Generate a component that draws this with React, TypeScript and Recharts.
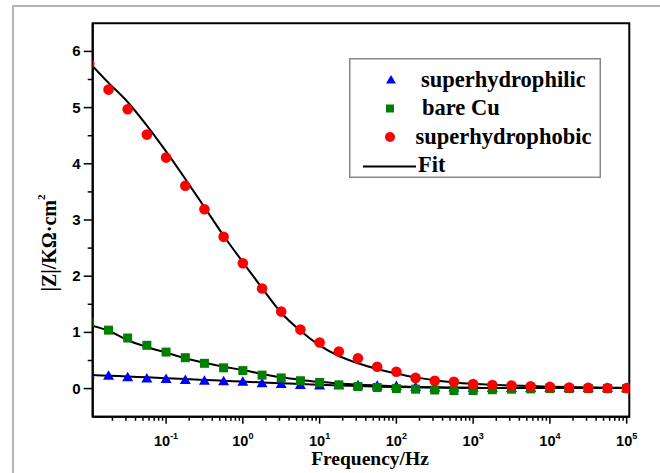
import React from 'react';
import { ComposedChart, Scatter, Line, XAxis, YAxis, Legend, ReferenceArea, Label } from 'recharts';

const freq = [0.01, 0.0178, 0.0316, 0.0562, 0.1, 0.178, 0.316, 0.562, 1, 1.78, 3.16, 5.62, 10, 17.8, 31.6, 56.2, 100, 178, 316, 562, 1000, 1780, 3160, 5620, 10000, 17800, 31600, 56200, 100000];

const philic = [0.25, 0.23, 0.2, 0.18, 0.17, 0.155, 0.14, 0.13, 0.12, 0.095, 0.08, 0.065, 0.055, 0.06, 0.06, 0.05, 0.045, 0.03, 0.02, 0.02, 0.015, 0.012, 0.01, 0.01, 0.01, 0.01, 0.01, 0.01, 0.01];
const bare = [1.18, 1.04, 0.9, 0.77, 0.65, 0.55, 0.45, 0.37, 0.32, 0.24, 0.19, 0.14, 0.11, 0.066, 0.036, 0.02, 0.0, -0.01, -0.025, -0.035, -0.035, -0.02, -0.01, -0.005, 0.0, 0.0, 0.0, 0.0, 0.0];
const phobic = [5.78, 5.32, 4.97, 4.52, 4.11, 3.61, 3.19, 2.7, 2.23, 1.78, 1.37, 1.05, 0.82, 0.66, 0.54, 0.39, 0.3, 0.19, 0.14, 0.12, 0.08, 0.065, 0.055, 0.04, 0.03, 0.02, 0.015, 0.012, 0.01];

const fitPhilic = [0.245, 0.23, 0.215, 0.2, 0.185, 0.17, 0.155, 0.14, 0.125, 0.11, 0.095, 0.08, 0.068, 0.055, 0.045, 0.035, 0.028, 0.022, 0.018, 0.015, 0.013, 0.012, 0.011, 0.01, 0.01, 0.01, 0.01, 0.01, 0.01];
const fitBare = [1.13, 1.03, 0.86, 0.74, 0.64, 0.54, 0.46, 0.39, 0.33, 0.26, 0.2, 0.155, 0.12, 0.09, 0.07, 0.055, 0.04, 0.03, 0.022, 0.017, 0.013, 0.011, 0.01, 0.01, 0.01, 0.01, 0.01, 0.01, 0.01];
const fitPhobic = [5.8, 5.44, 5.1, 4.68, 4.22, 3.73, 3.23, 2.72, 2.25, 1.79, 1.35, 1.03, 0.77, 0.58, 0.45, 0.35, 0.27, 0.2, 0.15, 0.11, 0.085, 0.07, 0.055, 0.045, 0.035, 0.028, 0.022, 0.017, 0.014];

const majorXTicks = [0.1, 1, 10, 100, 1000, 10000, 100000];
const minorXTicks = [
  0.02, 0.03, 0.04, 0.05, 0.06, 0.07, 0.08, 0.09,
  0.2, 0.3, 0.4, 0.5, 0.6, 0.7, 0.8, 0.9,
  2, 3, 4, 5, 6, 7, 8, 9,
  20, 30, 40, 50, 60, 70, 80, 90,
  200, 300, 400, 500, 600, 700, 800, 900,
  2000, 3000, 4000, 5000, 6000, 7000, 8000, 9000,
  20000, 30000, 40000, 50000, 60000, 70000, 80000, 90000,
];
const xTicks = [...majorXTicks, ...minorXTicks].sort((a, b) => a - b);
const majorYTicks = [0, 1, 2, 3, 4, 5, 6];
const minorYTicks = [0.5, 1.5, 2.5, 3.5, 4.5, 5.5];
const yTicks = [...majorYTicks, ...minorYTicks].sort((a, b) => a - b);

const xDomain: [number, number] = [0.01107, 108200];
const yDomain: [number, number] = [-0.5, 6.5];

const toRows = (vals: number[]) => freq.map((f, i) => ({ f, z: vals[i] }));
const philicData = toRows(philic);
const bareData = toRows(bare);
const phobicData = toRows(phobic);
const fitPhilicData = toRows(fitPhilic);
const fitBareData = toRows(fitBare);
const fitPhobicData = toRows(fitPhobic);

const SANS = '"Liberation Sans", Arial, sans-serif';
const SERIF = '"Liberation Serif", "Times New Roman", serif';

const XTick = (props: any) => {
  const { x, y, payload } = props;
  const v = payload.value as number;
  const lg = Math.log10(v);
  const exp = Math.round(lg);
  const major = Math.abs(lg - exp) < 1e-6;
  return (
    <g>
      <line x1={x} x2={x} y1={y} y2={y + (major ? 7 : 4)} stroke="#000" strokeWidth={1.5} />
      {major && (
        <text x={x} y={y + 29} textAnchor="middle" fontFamily={SANS} fontWeight="bold" fontSize={14.5} fill="#000">
          10<tspan dy={-7} fontSize={9}>{exp}</tspan>
        </text>
      )}
    </g>
  );
};

const YTick = (props: any) => {
  const { x, y, payload } = props;
  const v = payload.value as number;
  const major = Number.isInteger(v);
  return (
    <g>
      <line x1={x - (major ? 9 : 5)} x2={x} y1={y} y2={y} stroke="#000" strokeWidth={1.5} />
      {major && (
        <text x={x - 12} y={y + 5} textAnchor="end" fontFamily={SANS} fontWeight="bold" fontSize={15} fill="#000">
          {v}
        </text>
      )}
    </g>
  );
};

const XTitle = (props: any) => {
  const vb = props.viewBox || {};
  const cx = vb.x + vb.width / 2 + 9;
  const y = vb.y + 48;
  return (
    <text x={cx} y={y} textAnchor="middle" fontFamily={SERIF} fontWeight="bold" fontSize={19.5} fill="#000">
      Frequency/Hz
    </text>
  );
};

const YTitle = (props: any) => {
  const vb = props.viewBox || {};
  const cx = vb.x + 16.5;
  const cy = vb.y + vb.height / 2 + 23;
  return (
    <text
      x={cx}
      y={cy}
      transform={`rotate(-90 ${cx} ${cy})`}
      textAnchor="middle"
      dominantBaseline="central"
      fontFamily={SERIF}
      fontWeight="bold"
      fontSize={20}
      fill="#000"
    >
      |Z|/KΩ·cm<tspan dy={-8} fontSize={11}>2</tspan>
    </text>
  );
};

const TriShape = (p: any) => (
  <polygon points={`${p.cx},${p.cy - 5.5} ${p.cx + 5.5},${p.cy + 4} ${p.cx - 5.5},${p.cy + 4}`} fill="#0000ff" />
);
const SquareShape = (p: any) => <rect x={p.cx - 4.5} y={p.cy - 4.5} width={9} height={9} fill="#007f00" />;
const CircleShape = (p: any) => <circle cx={p.cx} cy={p.cy} r={5.3} fill="#ff0000" />;

const legendItems = [
  { name: 'superhydrophilic', kind: 'tri', tx: 72, ty: 28.5 },
  { name: 'bare Cu', kind: 'sq', tx: 73, ty: 57 },
  { name: 'superhydrophobic', kind: 'ci', tx: 66.5, ty: 85.5 },
  { name: 'Fit', kind: 'line', tx: 69, ty: 114 },
];

const LegendBox = () => (
  <svg width={252} height={120} style={{ display: 'block' }}>
    <rect x={0.75} y={0.75} width={250.5} height={118.5} fill="#fff" stroke="#888" strokeWidth={1.5} />
    {legendItems.map((it, i) => {
      const cy = it.ty - 6.5;
      let sym: React.ReactNode = null;
      if (it.kind === 'tri') sym = <polygon points={`42,${cy - 5} 47,${cy + 3.5} 37,${cy + 3.5}`} fill="#0000ff" />;
      if (it.kind === 'sq') sym = <rect x={37} y={cy - 4} width={8} height={8} fill="#007f00" />;
      if (it.kind === 'ci') sym = <circle cx={41} cy={cy} r={5} fill="#ff0000" />;
      if (it.kind === 'line') sym = <line x1={14} x2={67} y1={cy + 1} y2={cy + 1} stroke="#000" strokeWidth={2.2} />;
      return (
        <g key={i}>
          {sym}
          <text x={it.tx} y={it.ty} fontFamily={SERIF} fontWeight="bold" fontSize={22.5} fill="#000">
            {it.name}
          </text>
        </g>
      );
    })}
  </svg>
);

export default function App() {
  return (
    <div style={{ position: 'absolute', left: 0, top: 0, width: 660, height: 473, background: '#fff' }}>
      <div
        style={{
          position: 'absolute',
          left: 12,
          top: 5,
          right: 0,
          bottom: 0,
          borderLeft: '2px solid #b4b4b4',
          borderTop: '2px solid #b4b4b4',
        }}
      />
      <div style={{ position: 'absolute', left: 0, top: 0 }}>
        <ComposedChart width={660} height={473} margin={{ top: 23.3, right: 30.7, bottom: 16.3, left: 32.7 }}>
          <XAxis
            dataKey="f"
            type="number"
            scale="log"
            domain={xDomain}
            allowDataOverflow
            ticks={xTicks}
            interval={0}
            tickSize={0}
            tickMargin={0}
            tickLine={false}
            tick={<XTick />}
            axisLine={{ stroke: '#000', strokeWidth: 2 }}
            height={40}
          >
            <Label content={<XTitle />} />
          </XAxis>
          <YAxis
            dataKey="z"
            type="number"
            domain={yDomain}
            allowDataOverflow
            ticks={yTicks}
            interval={0}
            tickSize={0}
            tickMargin={0}
            tickLine={false}
            tick={<YTick />}
            axisLine={{ stroke: '#000', strokeWidth: 2 }}
            width={60}
          >
            <Label content={<YTitle />} />
          </YAxis>
          <ReferenceArea x1={xDomain[0]} x2={xDomain[1]} y1={yDomain[0]} y2={yDomain[1]} fill="none" stroke="#000" strokeWidth={2} fillOpacity={0} />
          <Scatter name="superhydrophilic" data={philicData} dataKey="z" shape={TriShape} isAnimationActive={false} />
          <Scatter name="bare Cu" data={bareData} dataKey="z" shape={SquareShape} isAnimationActive={false} />
          <Scatter name="superhydrophobic" data={phobicData} dataKey="z" shape={CircleShape} isAnimationActive={false} />
          <Line data={fitPhilicData} dataKey="z" type="monotone" stroke="#000" strokeWidth={2} dot={false} activeDot={false} isAnimationActive={false} legendType="none" />
          <Line data={fitBareData} dataKey="z" type="monotone" stroke="#000" strokeWidth={2} dot={false} activeDot={false} isAnimationActive={false} legendType="none" />
          <Line data={fitPhobicData} dataKey="z" type="monotone" stroke="#000" strokeWidth={2} dot={false} activeDot={false} isAnimationActive={false} legendType="none" />
          <Legend
            layout="vertical"
            align="center"
            verticalAlign="middle"
            content={<LegendBox />}
            wrapperStyle={{ left: 349, top: 58, width: 252, height: 120 }}
          />
        </ComposedChart>
      </div>
    </div>
  );
}
